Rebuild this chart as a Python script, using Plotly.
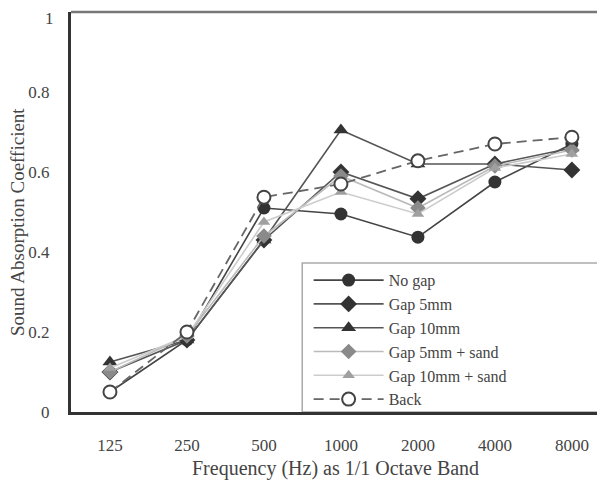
import plotly.graph_objects as go

freqs = ["125", "250", "500", "1000", "2000", "4000", "8000"]
no_gap = [0.05, 0.18, 0.51, 0.495, 0.437, 0.575, 0.67]
gap_5mm = [0.10, 0.18, 0.43, 0.60, 0.533, 0.62, 0.605]
gap_10mm = [0.125, 0.18, 0.43, 0.705, 0.62, 0.62, 0.66]
gap_5mm_sand = [0.10, 0.19, 0.44, 0.59, 0.51, 0.615, 0.655]
gap_10mm_sand = [0.11, 0.19, 0.475, 0.55, 0.495, 0.61, 0.645]
back = [0.05, 0.20, 0.537, 0.57, 0.628, 0.67, 0.687]
y_tick_vals = [0, 0.2, 0.4, 0.6, 0.8, 1]
y_tick_text = ["0", "0.2", "0.4", "0.6", "0.8", "1"]

FONT = "Liberation Serif, Times New Roman, serif"
TXT = "#444444"

series = [
    ("No gap", no_gap, dict(symbol="circle", size=13, color="#333333"), dict(color="#444444", width=1.6)),
    ("Gap 5mm", gap_5mm, dict(symbol="diamond", size=13, color="#333333"), dict(color="#555555", width=1.6)),
    ("Gap 10mm", gap_10mm, dict(symbol="triangle-up", size=13, color="#333333"), dict(color="#555555", width=1.6)),
    ("Gap 5mm + sand", gap_5mm_sand, dict(symbol="diamond", size=12, color="#8a8a8a"), dict(color="#bbbbbb", width=1.6)),
    ("Gap 10mm + sand", gap_10mm_sand, dict(symbol="triangle-up", size=11, color="#a0a0a0"), dict(color="#cccccc", width=1.6)),
    ("Back", back, dict(symbol="circle", size=13, color="white", line=dict(color="#444444", width=2)), dict(color="#666666", width=1.8, dash="10px,6px")),
]

fig = go.Figure()
for name, vals, mk, ln in series:
    fig.add_trace(go.Scatter(x=freqs, y=vals, name=name, mode="lines+markers",
                             marker=mk, line=ln))

fig.add_shape(type="rect", xref="paper", yref="paper", x0=0.433, x1=1.2, y0=0, y1=0.3725,
              line=dict(color="#aaaaaa", width=1.5), fillcolor="white", layer="below")
fig.add_shape(type="line", xref="paper", yref="paper", x0=0, x1=1, y0=1, y1=1,
              line=dict(color="#777777", width=2.5))

fig.update_layout(
    width=597, height=480,
    margin=dict(l=63, r=0, t=4, b=76, autoexpand=False),
    paper_bgcolor="white", plot_bgcolor="white",
    font=dict(family=FONT, color=TXT, size=17),
    showlegend=True,
    legend=dict(x=0.445, y=0.372, xanchor="left", yanchor="top",
                bgcolor="rgba(0,0,0,0)", borderwidth=0,
                font=dict(family=FONT, size=16, color=TXT),
                itemwidth=70, tracegroupgap=0),
    xaxis=dict(type="category", range=[-0.506, 6.43], showgrid=False, zeroline=False,
               showline=True, linecolor="#333333", linewidth=3, mirror=False,
               ticks="", ticklabelstandoff=16, automargin=False,
               tickfont=dict(family=FONT, size=17, color=TXT)),
    yaxis=dict(range=[0, 1], showgrid=False, zeroline=False,
               showline=True, linecolor="#333333", linewidth=3, automargin=False,
               tickvals=y_tick_vals[:-1], ticktext=y_tick_text[:-1],
               ticks="", ticklabelstandoff=15, ticklabeloverflow="allow",
               tickfont=dict(family=FONT, size=17, color=TXT)),
    annotations=[
        dict(text=y_tick_text[-1], xref="paper", yref="paper",
             x=-16 / 534, y=1.01, xanchor="right", yanchor="top", borderpad=0,
             showarrow=False, font=dict(family=FONT, size=17, color=TXT)),
        dict(text="Frequency (Hz) as 1/1 Octave Band", xref="paper", yref="paper",
             x=(335 - 71) / 534, y=-(468 - 412) / 400, xanchor="center", yanchor="middle",
             showarrow=False, font=dict(family=FONT, size=20, color=TXT)),
        dict(text="Sound Absorption Coefficient", xref="paper", yref="paper",
             x=-(71 - 17) / 534, y=(412 - 222) / 400, xanchor="center", yanchor="middle",
             textangle=-90, showarrow=False, font=dict(family=FONT, size=19, color=TXT)),
    ],
)

fig.write_html("out.html")
